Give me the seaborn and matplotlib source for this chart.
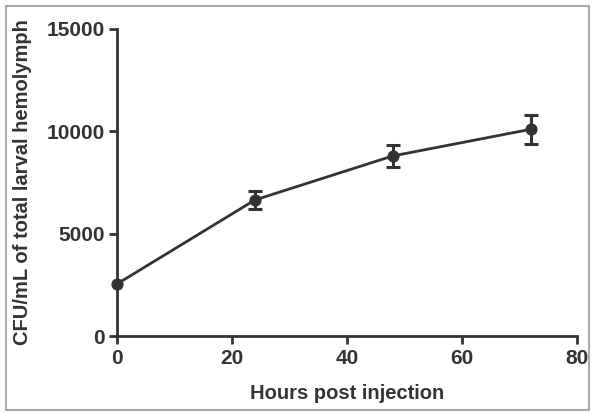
import matplotlib
matplotlib.use("Agg")
import matplotlib.pyplot as plt
import seaborn as sns
import pandas as pd
from matplotlib.patches import Rectangle

# data
hours = [0, 24, 48, 72]
cfu = [2550, 6650, 8800, 10100]
sem = [0, 420, 540, 700]

df = pd.DataFrame({"hours": hours, "cfu": cfu, "sem": sem})

sns.set_style("white")
plt.rcParams['font.family'] = ['Liberation Sans', 'DejaVu Sans']
ink = '#333333'

fig = plt.figure(figsize=(5.94, 4.13), dpi=100)
ax = fig.add_axes([0.197, 0.186, 0.774, 0.744])

# no error bar at t=0
eb = df[df["sem"] > 0]
ax.errorbar(eb["hours"], eb["cfu"], yerr=eb["sem"], fmt='none',
            ecolor=ink, elinewidth=2.2, capsize=5, capthick=2.2, zorder=2)
sns.lineplot(data=df, x="hours", y="cfu", ax=ax, color=ink, lw=2,
             marker='o', markersize=8, markeredgecolor=ink, zorder=3)
for ln in ax.lines:
    ln.set_clip_on(False)

ax.set_xlim(0, 80)
ax.set_ylim(0, 15000)
ax.set_xticks([0, 20, 40, 60, 80])
ax.set_yticks([0, 5000, 10000, 15000])
sns.despine(ax=ax)
for s in ['left', 'bottom']:
    ax.spines[s].set_color(ink)
    ax.spines[s].set_linewidth(2)
ax.tick_params(direction='out', length=6, width=2, color=ink, labelcolor=ink,
               labelsize=15, left=True, bottom=True, pad=3)
for lab in ax.get_xticklabels() + ax.get_yticklabels():
    lab.set_fontweight('bold')

ax.set_xlabel("Hours post injection", fontsize=14.5, fontweight='bold', color=ink, labelpad=12)
ax.set_ylabel("CFU/mL of total larval hemolymph", fontsize=14.5, fontweight='bold', color=ink, labelpad=10)

# light frame around the whole picture
fig.patches.append(Rectangle((0.010, 0.008), 0.981, 0.978, transform=fig.transFigure,
                             fill=False, edgecolor='#aaaaaa', lw=1.5))

fig.savefig("out.png", dpi=100)
